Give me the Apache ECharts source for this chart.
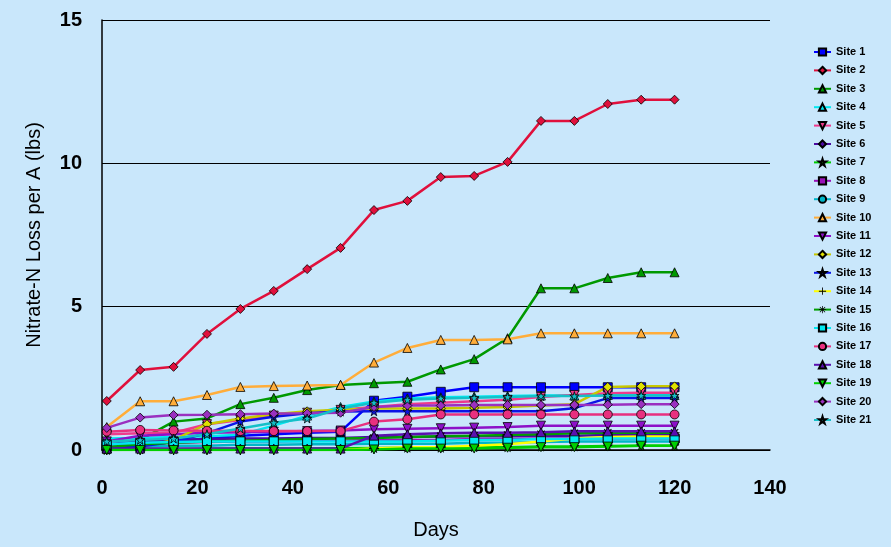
<!DOCTYPE html>
<html>
<head>
<meta charset="utf-8">
<title>Nitrate-N Loss</title>
<script src="https://cdn.jsdelivr.net/npm/echarts@6/dist/echarts.min.js"></script>
<style>
  html, body { margin: 0; padding: 0; background: #c9e7fb; }
  #chart { width: 891px; height: 547px; }
</style>
</head>
<body>
<div id="chart"></div>
<script>
// sampling days (weekly)
const days = [1, 8, 15, 22, 29, 36, 43, 50, 57, 64, 71, 78, 85, 92, 99, 106, 113, 120];

// cumulative nitrate-N loss per site (lbs/A)
const site1  = [0.05, 0.1, 0.3, 0.4, 0.5, 0.55, 0.6, 0.64, 1.72, 1.86, 2.03, 2.19, 2.19, 2.19, 2.19, 2.19, 2.19, 2.19];
const site2  = [1.71, 2.79, 2.9, 4.05, 4.92, 5.55, 6.31, 7.05, 8.37, 8.69, 9.52, 9.56, 10.05, 11.48, 11.48, 12.07, 12.22, 12.22];
const site3  = [0.05, 0.35, 0.99, 1.1, 1.6, 1.82, 2.09, 2.27, 2.33, 2.38, 2.81, 3.17, 3.9, 5.64, 5.64, 6.0, 6.2, 6.2];
const site4  = [0.4, 0.42, 0.45, 0.48, 0.53, 0.85, 1.2, 1.5, 1.69, 1.8, 1.84, 1.86, 1.88, 1.9, 1.9, 1.92, 1.92, 1.92];
const site5  = [0.55, 0.58, 0.6, 0.9, 1.05, 1.2, 1.3, 1.4, 1.5, 1.6, 1.65, 1.7, 1.75, 1.85, 1.92, 1.98, 2.0, 2.0];
const site6  = [0.2, 0.3, 0.35, 0.38, 0.4, 0.4, 0.42, 0.42, 0.45, 0.45, 0.47, 0.48, 0.48, 0.5, 0.5, 0.52, 0.52, 0.52];
const site7  = [0.0, 0.02, 0.03, 0.04, 0.05, 0.05, 0.05, 0.06, 0.07, 0.08, 0.08, 0.1, 0.1, 0.12, 0.12, 0.14, 0.15, 0.15];
const site8  = [0.15, 0.2, 0.25, 0.28, 0.3, 0.3, 0.32, 0.32, 0.35, 0.35, 0.35, 0.38, 0.38, 0.4, 0.4, 0.4, 0.4, 0.4];
const site9  = [0.1, 0.12, 0.15, 0.15, 0.18, 0.18, 0.2, 0.2, 0.22, 0.22, 0.22, 0.25, 0.25, 0.28, 0.3, 0.3, 0.3, 0.3];
const site10 = [0.8, 1.7, 1.7, 1.92, 2.2, 2.23, 2.25, 2.27, 3.05, 3.56, 3.84, 3.84, 3.86, 4.07, 4.07, 4.07, 4.07, 4.07];
const site11 = [0.3, 0.5, 0.55, 0.6, 0.62, 0.64, 0.66, 0.68, 0.72, 0.74, 0.76, 0.78, 0.8, 0.85, 0.85, 0.85, 0.85, 0.85];
const site12 = [0.1, 0.1, 0.35, 0.9, 1.1, 1.25, 1.35, 1.4, 1.45, 1.45, 1.45, 1.47, 1.5, 1.55, 1.6, 2.2, 2.22, 2.22];
const site13 = [0.05, 0.12, 0.29, 0.59, 0.99, 1.16, 1.28, 1.34, 1.35, 1.35, 1.35, 1.35, 1.35, 1.35, 1.46, 1.81, 1.81, 1.81];
const site14 = [0.0, 0.0, 0.0, 0.0, 0.0, 0.0, 0.0, 0.0, 0.05, 0.1, 0.1, 0.15, 0.2, 0.3, 0.4, 0.45, 0.47, 0.47];
const site15 = [0.1, 0.2, 0.25, 0.3, 0.32, 0.35, 0.38, 0.4, 0.42, 0.45, 0.48, 0.5, 0.52, 0.55, 0.58, 0.6, 0.6, 0.6];
const site16 = [0.2, 0.25, 0.28, 0.3, 0.3, 0.3, 0.3, 0.3, 0.3, 0.3, 0.32, 0.35, 0.35, 0.38, 0.38, 0.4, 0.4, 0.4];
const site17 = [0.64, 0.7, 0.68, 0.67, 0.66, 0.66, 0.66, 0.66, 0.99, 1.07, 1.24, 1.24, 1.24, 1.24, 1.24, 1.24, 1.24, 1.24];
const site18 = [0.05, 0.05, 0.05, 0.05, 0.05, 0.05, 0.05, 0.05, 0.5, 0.55, 0.58, 0.6, 0.6, 0.62, 0.65, 0.65, 0.65, 0.65];
const site19 = [0.0, 0.0, 0.0, 0.0, 0.0, 0.0, 0.0, 0.0, 0.02, 0.05, 0.05, 0.05, 0.08, 0.1, 0.1, 0.12, 0.15, 0.15];
const site20 = [0.77, 1.13, 1.22, 1.23, 1.25, 1.27, 1.28, 1.3, 1.5, 1.55, 1.55, 1.57, 1.57, 1.57, 1.57, 1.58, 1.6, 1.6];
const site21 = [0.3, 0.35, 0.4, 0.55, 0.75, 0.95, 1.1, 1.45, 1.65, 1.75, 1.8, 1.82, 1.85, 1.88, 1.88, 1.9, 1.9, 1.9];

const xTicks = [0, 140, 20];   // min, max, interval
const yTicks = [0, 15, 5];

const STAR = 'path://M5,0L6.2,3.6L10,3.6L6.9,5.8L8.1,9.5L5,7.2L1.9,9.5L3.1,5.8L0,3.6L3.8,3.6Z';
const PLUS = 'path://M4.4,0H5.6V4.4H10V5.6H5.6V10H4.4V5.6H0V4.4H4.4Z';
const ASTER = 'path://M4.5,0H5.5V10H4.5Z M0,4.5H10V5.5H0Z M1,1.7L1.7,1L9,8.3L8.3,9Z M8.3,1L9,1.7L1.7,9L1,8.3Z';

// name, data, line colour, marker, marker fill, rotate
const sites = [
  ['Site 1',  site1,  '#0000ff', 'rect',     '#0000ff', 0],
  ['Site 2',  site2,  '#e0103c', 'diamond',  '#e0103c', 0],
  ['Site 3',  site3,  '#009900', 'triangle', '#009900', 0],
  ['Site 4',  site4,  '#00e8f0', 'triangle', '#00e8f0', 0],
  ['Site 5',  site5,  '#ee3a8c', 'triangle', '#ee3a8c', 180],
  ['Site 6',  site6,  '#4a0aa0', 'diamond',  '#4a0aa0', 0],
  ['Site 7',  site7,  '#00cc00', STAR,       '#00cc00', 0],
  ['Site 8',  site8,  '#9a12b8', 'rect',     '#9a12b8', 0],
  ['Site 9',  site9,  '#00b6c8', 'circle',   '#00b6c8', 0],
  ['Site 10', site10, '#ffad3a', 'triangle', '#ffad3a', 0],
  ['Site 11', site11, '#8d10c8', 'triangle', '#8d10c8', 180],
  ['Site 12', site12, '#c8c800', 'diamond',  '#e0e000', 0],
  ['Site 13', site13, '#0a14e6', STAR,       '#0a14e6', 0],
  ['Site 14', site14, '#ffff00', PLUS,       '#000000', 0],
  ['Site 15', site15, '#009e00', ASTER,      '#000000', 0],
  ['Site 16', site16, '#00e8f0', 'rect',     '#00e8f0', 0],
  ['Site 17', site17, '#e8307f', 'circle',   '#e8307f', 0],
  ['Site 18', site18, '#5a10b0', 'triangle', '#5a10b0', 0],
  ['Site 19', site19, '#00d000', 'triangle', '#00d000', 180],
  ['Site 20', site20, '#9a30c0', 'diamond',  '#9a30c0', 0],
  ['Site 21', site21, '#14c0c8', STAR,       '#14c0c8', 0]
];

const font = '"Liberation Sans", Arial, sans-serif';

const series = sites.map(function (s) {
  const lineOnly = s[3] === PLUS || s[3] === ASTER;
  return {
    name: s[0],
    type: 'line',
    data: days.map(function (d, i) { return [d, s[1][i]]; }),
    symbol: s[3],
    symbolSize: lineOnly ? 10 : 9,
    symbolRotate: s[5],
    showAllSymbol: true,
    lineStyle: { color: s[2], width: 2.5 },
    itemStyle: {
      color: s[4],
      borderColor: '#000000',
      borderWidth: lineOnly ? 0 : 0.8
    }
  };
});

const chart = echarts.init(document.getElementById('chart'));
chart.setOption({
  animation: false,
  backgroundColor: '#c9e7fb',
  textStyle: { fontFamily: font },
  grid: { left: 102, right: 121, top: 20, bottom: 97 },
  legend: {
    orient: 'vertical',
    left: 808,
    top: 41,
    itemWidth: 17,
    itemHeight: 9,
    itemGap: 6.4,
    textStyle: { fontFamily: font, fontSize: 11, fontWeight: 'bold', color: '#000', lineHeight: 12 },
    data: sites.map(function (s) { return s[0]; })
  },
  xAxis: {
    type: 'value',
    min: xTicks[0],
    max: xTicks[1],
    interval: xTicks[2],
    name: 'Days',
    nameLocation: 'middle',
    nameGap: 70,
    nameTextStyle: { fontFamily: font, fontSize: 20, color: '#000' },
    axisLine: { lineStyle: { color: '#000', width: 1.5 } },
    axisTick: { show: false },
    axisLabel: { fontFamily: font, fontSize: 20, fontWeight: 'bold', color: '#000', margin: 28 },
    splitLine: { show: false }
  },
  yAxis: {
    type: 'value',
    min: yTicks[0],
    max: yTicks[1],
    interval: yTicks[2],
    name: 'Nitrate-N Loss per A (lbs)',
    nameLocation: 'middle',
    nameGap: 58,
    nameTextStyle: { fontFamily: font, fontSize: 20, color: '#000' },
    axisLine: { show: true, lineStyle: { color: '#000', width: 1.5 } },
    axisTick: { show: false },
    axisLabel: { fontFamily: font, fontSize: 20, fontWeight: 'bold', color: '#000', margin: 20 },
    splitLine: { show: true, lineStyle: { color: '#000', width: 1 } }
  },
  series: series
});
</script>
</body>
</html>
